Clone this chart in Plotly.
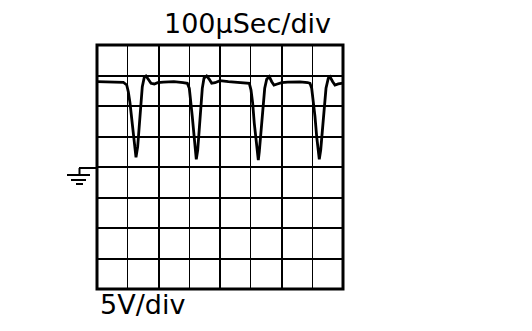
import plotly.graph_objects as go

# Time (µs) and voltage (V); 100 µs/div, 5 V/div
time_us = [0, 40, 85.5, 96.6, 101.8, 107.3, 112.8, 118.0, 123.5, 126.8, 132.3, 136.6,
           142.1, 147.3, 153.8, 159.3, 166.8, 175.6, 186.3, 197.4, 215.6, 250, 280,
           293.7, 300.2, 304.7, 309.9, 315.4, 319.7, 322.9, 327.5, 331.7, 337.2, 342.4,
           347.9, 356.7, 365.2, 373.0, 383.7, 400.0, 427.0, 440, 470, 485,
           495.3, 500.8, 506.3, 511.5, 517.1, 521.3, 524.6, 527.8, 533.3, 538.9, 545.4,
           551.9, 560.3, 568.2, 575.6, 586.4, 600.6, 620, 660, 685,
           692.7, 698.2, 703.4, 708.9, 714.4, 719.7, 722.9, 727.5, 732.7, 738.2, 744.7,
           752.2, 757.7, 766.5, 774.0, 784.7, 795.8, 800]
volts = [14.0, 13.95, 13.89, 13.44, 12.34, 10.49, 7.70, 4.97, 2.79, 1.59, 3.33, 6.61,
         10.44, 13.16, 14.70, 14.92, 14.38, 13.72, 13.61, 13.82, 13.93, 13.98, 13.85,
         13.72, 12.90, 10.98, 8.25, 5.25, 2.79, 1.26, 2.79, 6.07, 9.89, 12.90,
         14.54, 14.92, 14.38, 13.72, 13.82, 14.15, 13.98, 13.95, 13.90, 13.85,
         13.72, 12.62, 10.44, 7.16, 4.15, 1.97, 1.15, 2.51, 6.07, 9.89, 12.90,
         14.38, 14.80, 13.98, 13.44, 13.61, 13.82, 13.90, 13.95, 13.85,
         13.72, 12.90, 10.98, 8.25, 4.97, 2.51, 1.26, 2.79, 6.07, 9.89, 12.90,
         14.54, 14.80, 13.98, 13.44, 13.61, 13.72, 13.77]

time_label = "100µSec/div"
volt_label = "5V/div"

W, H = 532, 331
L, R, T, B = 97, 343, 45, 289  # plot area in pixels

fig = go.Figure()
fig.add_trace(go.Scatter(x=time_us, y=volts, mode="lines",
                         line=dict(color="black", width=2.8), hoverinfo="skip"))

def px(x):
    return (x - L) / (R - L)

def py(y):
    return (B - y) / (B - T)

shapes = [
    dict(type="rect", xref="paper", yref="paper", x0=0, x1=1, y0=0, y1=1,
         line=dict(color="black", width=3)),
    # ground symbol
    dict(type="line", xref="paper", yref="paper", x0=px(79), x1=px(97), y0=py(168), y1=py(168),
         line=dict(color="black", width=2)),
    dict(type="line", xref="paper", yref="paper", x0=px(79.5), x1=px(79.5), y0=py(168), y1=py(175),
         line=dict(color="black", width=2)),
    dict(type="line", xref="paper", yref="paper", x0=px(67), x1=px(90), y0=py(175), y1=py(175),
         line=dict(color="black", width=2)),
    dict(type="line", xref="paper", yref="paper", x0=px(71), x1=px(86), y0=py(180), y1=py(180),
         line=dict(color="black", width=2)),
    dict(type="line", xref="paper", yref="paper", x0=px(76), x1=px(83), y0=py(184), y1=py(184),
         line=dict(color="black", width=2)),
]

fig.update_layout(
    width=W, height=H,
    margin=dict(l=L, r=W - R, t=T, b=H - B, pad=0),
    paper_bgcolor="white", plot_bgcolor="white",
    showlegend=False,
    shapes=shapes,
    annotations=[
        dict(text=time_label, xref="paper", yref="paper", x=px(247), y=py(23),
             xanchor="center", yanchor="middle", showarrow=False,
             font=dict(family="DejaVu Sans", size=27, color="black")),
        dict(text=volt_label, xref="paper", yref="paper", x=px(98), y=py(304),
             xanchor="left", yanchor="middle", showarrow=False,
             font=dict(family="DejaVu Sans", size=27, color="black")),
    ],
    xaxis=dict(range=[0, 800], tick0=0, dtick=200, showgrid=True, gridcolor="black",
               gridwidth=2, zeroline=False, showticklabels=False, ticks="",
               minor=dict(dtick=100, showgrid=True, gridcolor="black", gridwidth=1),
               fixedrange=True),
    yaxis=dict(range=[-20, 20], tick0=0, dtick=5, showgrid=True, gridcolor="black",
               gridwidth=2, zeroline=False, showticklabels=False, ticks="",
               fixedrange=True),
)

fig.write_html("out.html", config={"displayModeBar": False})
